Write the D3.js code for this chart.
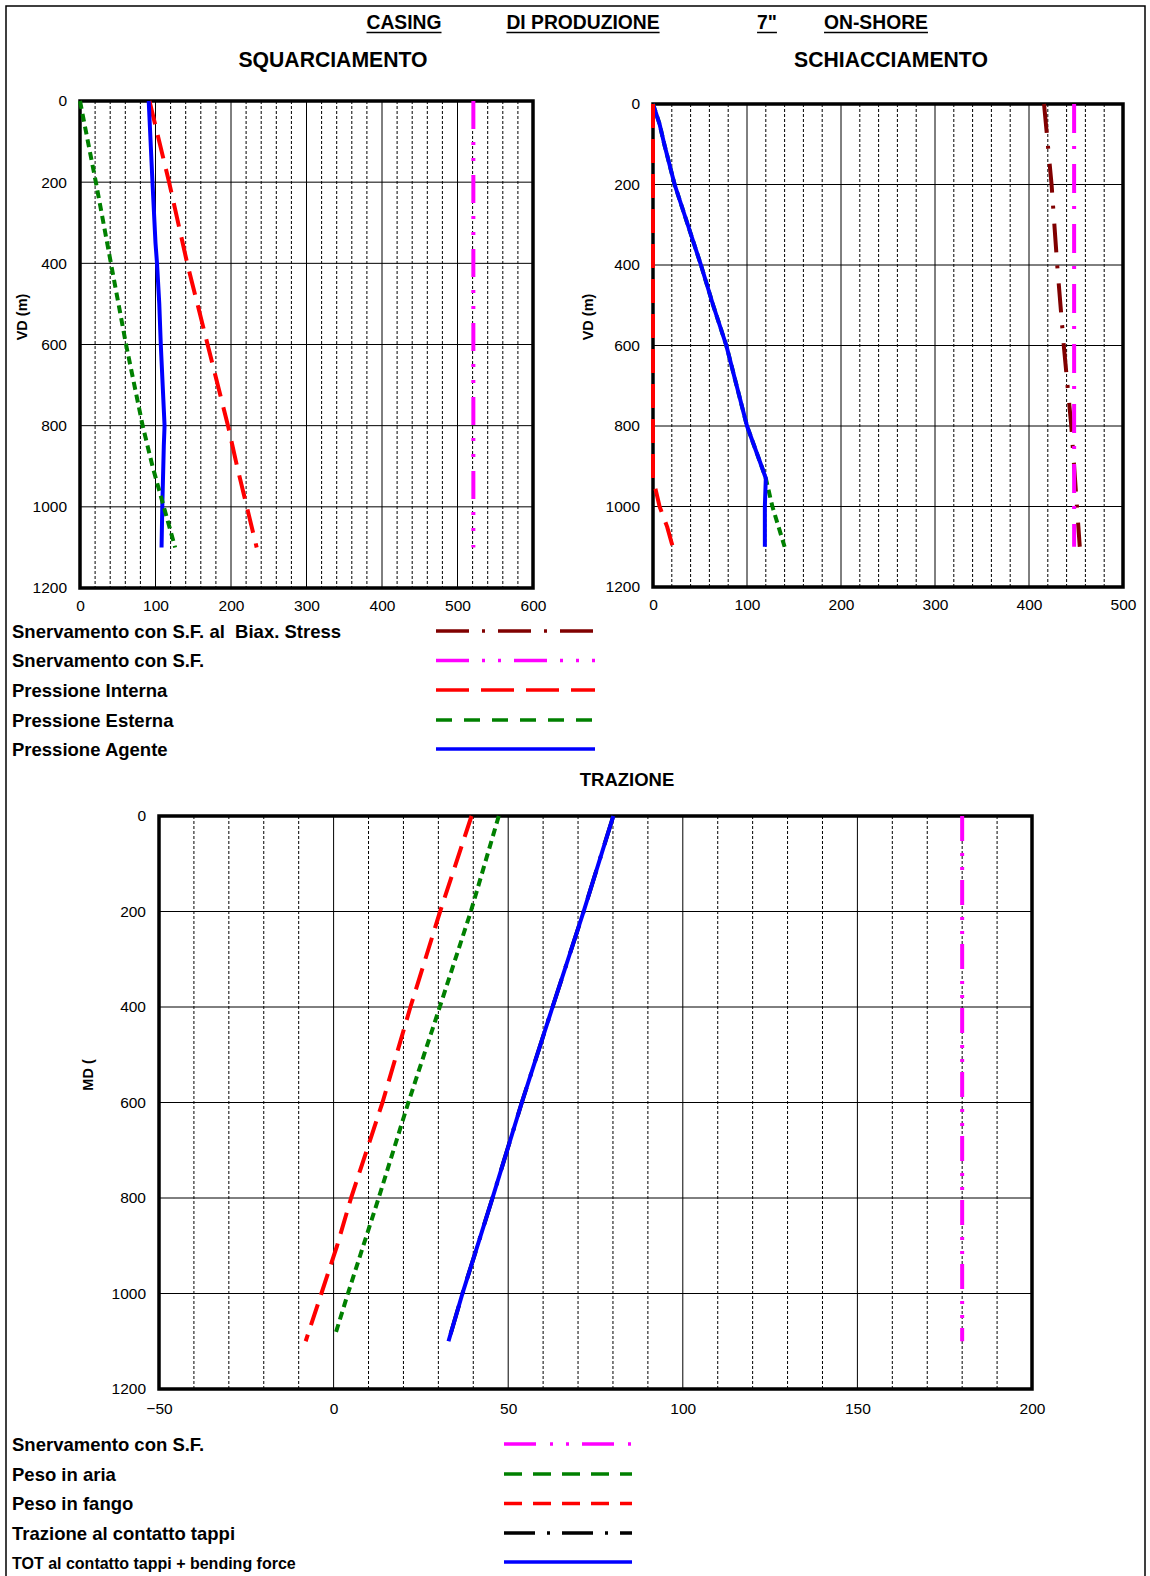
<!DOCTYPE html>
<html><head><meta charset="utf-8">
<script src="https://cdn.jsdelivr.net/npm/d3@7"></script>
<style>
body{margin:0;background:#fff}
svg{display:block}
text{font-family:"Liberation Sans",Arial,Helvetica,sans-serif;fill:#000;white-space:pre}
</style></head><body>
<svg id="c" width="1150" height="1576"></svg>
<script>
// ---------------- DATA ----------------
const headerWords = ["CASING", "DI PRODUZIONE", "7\"", "ON-SHORE"];
const panelTitles = ["SQUARCIAMENTO", "SCHIACCIAMENTO", "TRAZIONE"];
const depthTicks = [0, 200, 400, 600, 800, 1000, 1200];
const burstXTicks = [0, 100, 200, 300, 400, 500, 600];
const collapseXTicks = [0, 100, 200, 300, 400, 500];
const tensionXTicks = [-50, 0, 50, 100, 150, 200];

// SQUARCIAMENTO (burst)
const burstYieldDepth = [0, 1100];
const burstYield = [521, 521];
const burstIntDepth = [0, 200, 400, 600, 800, 900, 1000, 1100];
const burstInt = [92, 118, 142, 169, 196, 208, 221, 234];
const burstExtDepth = [0, 200, 400, 600, 800, 900, 1000, 1100];
const burstExt = [0, 21, 41, 61, 83, 96, 111, 126];
const burstAgDepth = [0, 200, 350, 400, 500, 600, 800, 850, 1000, 1100];
const burstAg = [91, 96, 100, 102, 105, 107, 112, 111, 109, 108];

// SCHIACCIAMENTO (collapse)
const collBiaxDepth = [0, 100, 200, 400, 600, 800, 1000, 1100];
const collBiax = [416, 420, 424, 430, 437, 445, 451, 454];
const collYieldDepth = [0, 1100];
const collYield = [448, 448];
const collIntDepth = [0, 930, 960, 1000, 1050, 1100];
const collInt = [0, 0, 3, 7, 15, 21];
const collExtDepth = [0, 50, 100, 200, 300, 400, 500, 600, 700, 800, 900, 930, 1000, 1100];
const collExt = [0, 7, 12, 23, 37, 51, 64, 78, 89, 100, 115.5, 120, 127, 140];
const collAgDepth = [0, 50, 100, 200, 300, 400, 500, 600, 700, 800, 900, 930, 1000, 1100];
const collAg = [0, 7, 12, 23, 37, 51, 64, 78, 89, 100, 115.5, 120, 119, 119];

// TRAZIONE (tension)
const tensYieldDepth = [0, 1100];
const tensYield = [180, 180];
const tensAirDepth = [0, 200, 400, 600, 800, 1000, 1090];
const tensAir = [47.3, 39.3, 30.4, 21.4, 12.9, 4.1, 0.3];
const tensMudDepth = [0, 200, 400, 600, 800, 900, 1000, 1100];
const tensMud = [39.5, 30.5, 22, 14, 5, 1, -3.5, -8];
const tensContactDepth = [0, 200, 400, 600, 800, 1000, 1100];
const tensContact = [80.1, 71.6, 62.7, 53.9, 45.5, 36.9, 32.9];
const tensTotDepth = [0, 200, 400, 600, 800, 1000, 1100];
const tensTot = [80.1, 71.6, 62.7, 53.9, 45.5, 36.9, 32.9];

const legendTopLabels = ["Snervamento con S.F. al  Biax. Stress", "Snervamento con S.F.", "Pressione Interna", "Pressione Esterna", "Pressione Agente"];
const legendBottomLabels = ["Snervamento con S.F.", "Peso in aria", "Peso in fango", "Trazione al contatto tappi", "TOT al contatto tappi + bending force"];

// ---------------- STYLES ----------------
const LW = 4;
const S = {
  maroon: {color: "#800000", dash: "29,13,3,15", w: LW},
  magenta: {color: "#ff00ff", dash: "28,13,3,13,3,14", w: LW},
  magentaR: {color: "#ff00ff", dash: "29,13,3,15", w: LW},
  magentaB: {color: "#ff00ff", dash: "25,12,3,11,3,10", w: LW},
  red: {color: "#ff0000", dash: "24,11", w: LW},
  redB: {color: "#ff0000", dash: "22,10", w: LW},
  green: {color: "#008000", dash: "8,5", w: LW},
  blue: {color: "#0000ff", dash: null, w: LW},
  black: {color: "#000000", dash: "30,12,3,12", w: LW}
};

const svg = d3.select("#c");
const FONT = '"Liberation Sans",Arial,Helvetica,sans-serif';

// outer frame
svg.append("rect").attr("x", 6).attr("y", 6).attr("width", 1139).attr("height", 1585)
  .attr("fill", "none").attr("stroke", "#000").attr("stroke-width", 1.5);

// header
const headerX = [404, 583, 767, 876];
headerWords.forEach((w, i) => {
  const t = svg.append("text").attr("x", headerX[i]).attr("y", 29).attr("text-anchor", "middle")
    .attr("font-size", 19.3).attr("font-weight", "bold").text(w);
  const len = t.node().getComputedTextLength();
  svg.append("line").attr("x1", headerX[i] - len / 2).attr("x2", headerX[i] + len / 2)
    .attr("y1", 32.5).attr("y2", 32.5).attr("stroke", "#000").attr("stroke-width", 1.5);
});

function panel(o) {
  const x = d3.scaleLinear().domain(o.xDomain).range([o.x0, o.x1]);
  const y = d3.scaleLinear().domain([0, 1200]).range([o.y0, o.y1]);
  const g = svg.append("g");
  // minor dashed verticals
  g.selectAll(".mn").data(d3.range(o.xDomain[0] + o.minor, o.xDomain[1], o.minor).filter(v => Math.abs(Math.round(v / o.major) * o.major - v) > 1e-6))
    .join("line").attr("x1", d => x(d)).attr("x2", d => x(d)).attr("y1", o.y0).attr("y2", o.y1)
    .attr("stroke", "#000").attr("stroke-width", 1).attr("stroke-dasharray", "3,2");
  // major verticals
  g.selectAll(".mj").data(o.xTicks.slice(1, -1)).join("line")
    .attr("x1", d => x(d)).attr("x2", d => x(d)).attr("y1", o.y0).attr("y2", o.y1)
    .attr("stroke", "#000").attr("stroke-width", 1);
  // horizontals
  g.selectAll(".hz").data(depthTicks.slice(1, -1)).join("line")
    .attr("x1", o.x0).attr("x2", o.x1).attr("y1", d => y(d)).attr("y2", d => y(d))
    .attr("stroke", "#000").attr("stroke-width", 1);
  // border
  g.append("rect").attr("x", o.x0).attr("y", o.y0).attr("width", o.x1 - o.x0).attr("height", o.y1 - o.y0)
    .attr("fill", "none").attr("stroke", "#000").attr("stroke-width", 3.5);
  // axes
  const ay = g.append("g").attr("transform", `translate(${o.x0},0)`)
    .call(d3.axisLeft(y).tickValues(depthTicks).tickSize(0).tickPadding(o.yPad || 13).tickFormat(d3.format("d")));
  const ax = g.append("g").attr("transform", `translate(0,${o.y1})`)
    .call(d3.axisBottom(x).tickValues(o.xTicks).tickSize(0).tickPadding(o.xPad || 12).tickFormat(d3.format("d")));
  [ay, ax].forEach(a => {
    a.select(".domain").remove();
    a.selectAll("text").attr("font-size", 15.5).attr("font-family", FONT).attr("fill", "#000");
  });
  // series
  const line = d3.line().x(d => x(d[1])).y(d => y(d[0]));
  o.series.forEach(s => {
    const pts = s.depth.map((d, i) => [d, s.val[i]]);
    const p = g.append("path").attr("d", line(pts)).attr("fill", "none")
      .attr("stroke", s.st.color).attr("stroke-width", s.st.w).attr("stroke-linejoin", "round");
    if (s.st.dash) p.attr("stroke-dasharray", s.st.dash);
  });
  // title
  if (o.title) svg.append("text").attr("x", o.titleX).attr("y", o.titleY).attr("text-anchor", "middle")
    .attr("font-size", o.titleSize).attr("font-weight", "bold").text(o.title);
  // y label
  svg.append("text").attr("transform", `translate(${o.labX},${o.labY}) rotate(-90)`)
    .attr("text-anchor", "middle").attr("font-size", 14.5).attr("font-weight", "bold").text(o.yLabel);
  return {x, y};
}

panel({
  x0: 80, x1: 533, y0: 101, y1: 588, xDomain: [0, 600], xTicks: burstXTicks, minor: 20, major: 100,
  title: panelTitles[0], titleX: 333, titleY: 67, titleSize: 21.2,
  yLabel: "VD (m)", labX: 27, labY: 317,
  series: [
    {depth: burstYieldDepth, val: burstYield, st: S.magenta},
    {depth: burstIntDepth, val: burstInt, st: S.red},
    {depth: burstAgDepth, val: burstAg, st: S.blue},
    {depth: burstExtDepth, val: burstExt, st: S.green}
  ]
});

panel({
  x0: 653, x1: 1123, y0: 104, y1: 587, xDomain: [0, 500], xTicks: collapseXTicks, minor: 20, major: 100,
  title: panelTitles[1], titleX: 891, titleY: 67, titleSize: 21.2,
  yLabel: "VD (m)", labX: 593, labY: 317,
  series: [
    {depth: collBiaxDepth, val: collBiax, st: S.maroon},
    {depth: collYieldDepth, val: collYield, st: S.magentaR},
    {depth: collExtDepth, val: collExt, st: S.green},
    {depth: collAgDepth, val: collAg, st: S.blue},
    {depth: collIntDepth, val: collInt, st: S.red}
  ]
});

panel({
  x0: 159, x1: 1032, y0: 816, y1: 1389, xDomain: [-50, 200], xTicks: tensionXTicks, minor: 10, major: 50,
  title: panelTitles[2], titleX: 627, titleY: 786, titleSize: 18.5,
  yLabel: "MD (", labX: 93, labY: 1075, xPad: 14,
  series: [
    {depth: tensYieldDepth, val: tensYield, st: S.magentaB},
    {depth: tensAirDepth, val: tensAir, st: S.green},
    {depth: tensMudDepth, val: tensMud, st: S.redB},
    {depth: tensContactDepth, val: tensContact, st: S.black},
    {depth: tensTotDepth, val: tensTot, st: S.blue}
  ]
});

// legends
function legend(labels, styles, rows, x1, x2, sizes) {
  labels.forEach((l, i) => {
    svg.append("text").attr("x", 12).attr("y", rows[i] + 6.5).attr("font-size", sizes[i])
      .attr("font-weight", "bold").attr("xml:space", "preserve").text(l);
    const st = styles[i];
    const ln = svg.append("line").attr("x1", x1).attr("x2", x2).attr("y1", rows[i]).attr("y2", rows[i])
      .attr("stroke", st.color).attr("stroke-width", 3.5);
    if (st.dash) ln.attr("stroke-dasharray", st.dash);
  });
}
legend(legendTopLabels,
  [{color: "#800000", dash: "33,13,3,13"}, {color: "#ff00ff", dash: "33,13,3,13,3,13"},
   {color: "#ff0000", dash: "33,12"}, {color: "#008000", dash: "16,12"}, {color: "#0000ff"}],
  [631, 660.5, 690, 720, 749], 436, 595, [18.5, 18.5, 18.5, 18.5, 18.5]);
legend(legendBottomLabels,
  [{color: "#ff00ff", dash: "32,14,3,13,3,13"}, {color: "#008000", dash: "18,11"},
   {color: "#ff0000", dash: "18,11"}, {color: "#000000", dash: "31,12,3,12"}, {color: "#0000ff"}],
  [1444, 1474, 1503.5, 1533, 1562], 504, 632, [18.5, 18.5, 18.5, 18.5, 16]);
</script>
</body></html>
